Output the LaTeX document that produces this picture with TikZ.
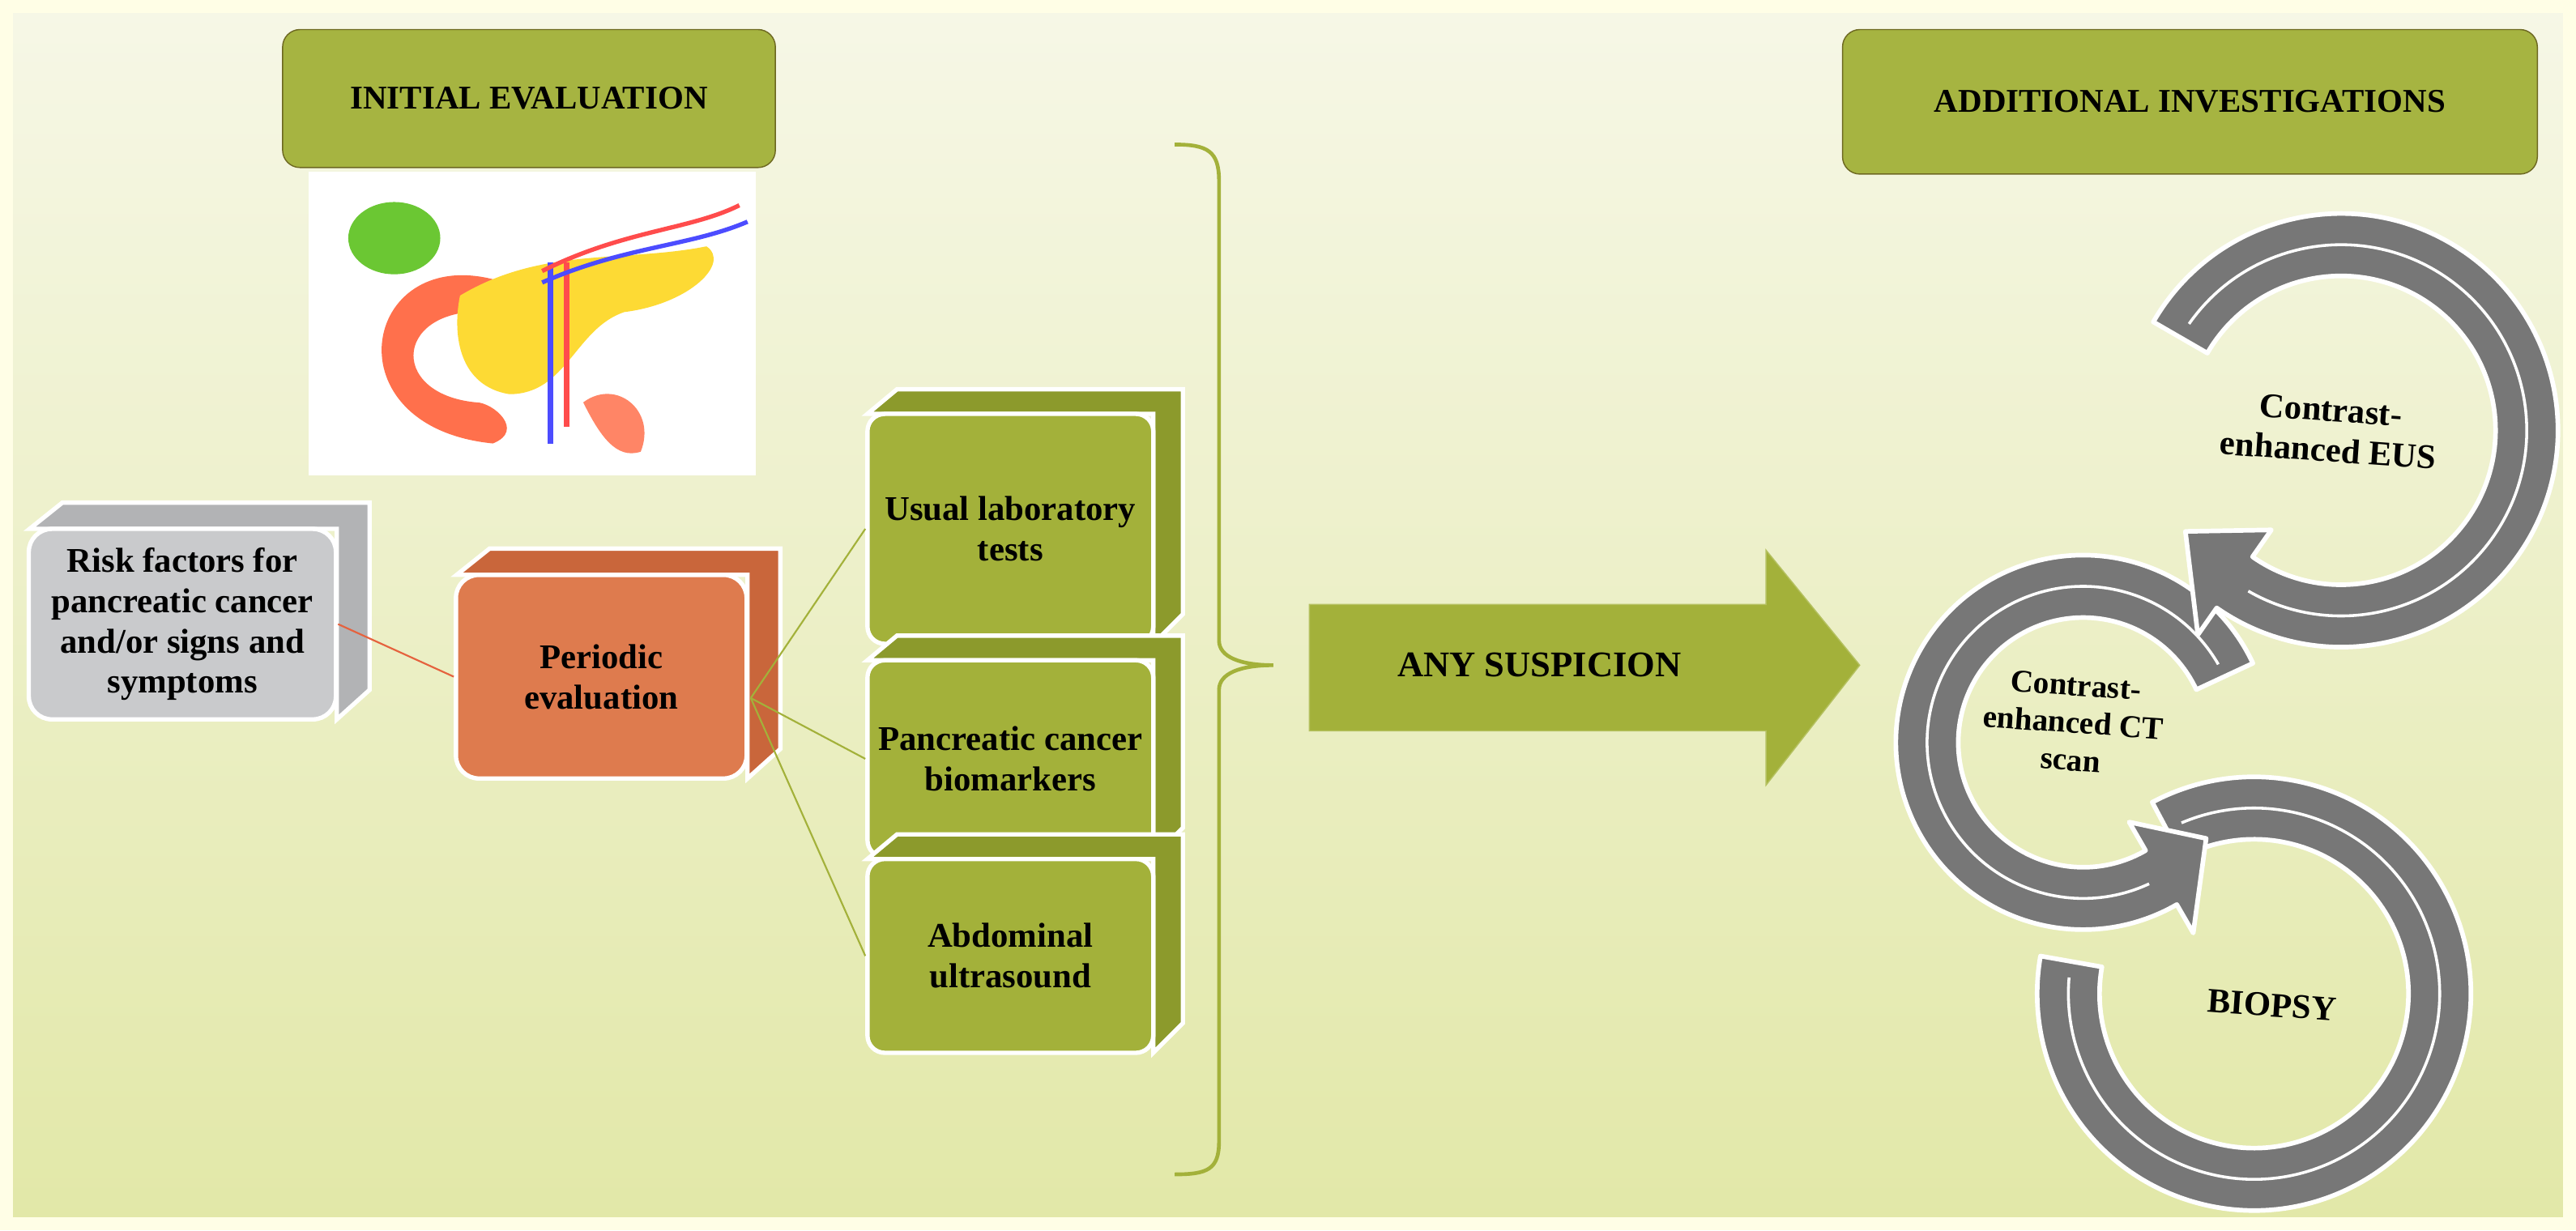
\documentclass[tikz,border=0pt]{standalone}
\usepackage{fontspec}
\setmainfont{Liberation Serif}
\begin{document}
\begin{tikzpicture}[x=0.02cm,y=-0.02cm,
  title/.style={draw=olive!70!black,fill=titleg,rounded corners=6pt,font=\bfseries\fontsize{11.5}{13}\selectfont,align=center},
  txt/.style={font=\bfseries\fontsize{12}{14}\selectfont,align=center},
  ring/.style={fill=ringg,draw=white,line width=1.6pt,line join=round},
  link/.style={line width=0.6pt}]
\definecolor{titleg}{HTML}{A6B441}
\definecolor{boxg}{HTML}{A3B13A}
\definecolor{boxgd}{HTML}{8C9A2C}
\definecolor{orng}{HTML}{DE7B4E}
\definecolor{orngd}{HTML}{C9663B}
\definecolor{grayb}{HTML}{C9CACC}
\definecolor{graybd}{HTML}{B2B3B5}
\definecolor{ringg}{HTML}{777777}
\useasboundingbox (0,0) rectangle (1568,749);
\fill[white!90!yellow] (0,0) rectangle (1568,749);
\shade[top color={rgb,255:red,246;green,247;blue,230}, bottom color={rgb,255:red,226;green,232;blue,168}] (8,8) rectangle (1560,741);
% titles
\node[title,minimum width=6cm,minimum height=1.68cm] (ie) at (322,60) {INITIAL EVALUATION};
\node[title,minimum width=8.46cm,minimum height=1.76cm] (ai) at (1333,62) {ADDITIONAL INVESTIGATIONS};
% pancreas picture
\node[fill=white,minimum width=5.44cm,minimum height=3.7cm,inner sep=0] (pic) at (324,197) {};
\fill[red!60!orange!70!white] (300,170) .. controls (220,150) and (200,260) .. (300,270) .. controls (320,262) and (300,245) .. (290,245) .. controls (235,240) and (240,185) .. (300,190) -- cycle;
\fill[yellow!70!orange!80!white] (280,180) .. controls (330,150) and (380,160) .. (430,150) .. controls (445,160) and (420,185) .. (380,190) .. controls (350,200) and (345,240) .. (310,240) .. controls (280,235) and (275,205) .. (280,180) -- cycle;
\fill[green!45!olive!80!white] (240,145) ellipse (28 and 22);
\draw[blue!70,line width=2pt] (335,160) -- (335,270);
\draw[red!70,line width=2pt] (345,160) -- (345,260);
\draw[red!70,line width=1.5pt] (330,165) .. controls (380,140) and (420,140) .. (450,125);
\draw[blue!70,line width=1.5pt] (330,172) .. controls (380,150) and (420,150) .. (455,135);
\fill[red!60!orange!60!white] (355,245) .. controls (375,230) and (400,250) .. (390,275) .. controls (375,280) and (365,265) .. (355,245) -- cycle;
% gray box
\fill[graybd,draw=white,line width=1.5pt] (18,322) -- (38,306) -- (225,306) -- (225,420) -- (205,438) -- (205,322) -- cycle;
\node[fill=grayb,draw=white,line width=1.5pt,rounded corners=8pt,minimum width=3.74cm,minimum height=2.32cm,inner sep=1pt,txt] (risk) at (111,380) {Risk factors for\\pancreatic cancer\\and/or signs and\\symptoms};
% orange box
\fill[orngd,draw=white,line width=1.5pt] (278,350) -- (298,334) -- (475,334) -- (475,456) -- (455,474) -- (455,350) -- cycle;
\node[fill=orng,draw=white,line width=1.5pt,rounded corners=8pt,minimum width=3.54cm,minimum height=2.48cm,txt] (per) at (366,412) {Periodic\\evaluation};
\draw[link,draw=orng!80!red] (risk.east) -- (per.west);
% green boxes
\foreach \n/\y/\h/\t in {ul/322/140/{Usual laboratory\\tests}, pc/462/120/{Pancreatic cancer\\biomarkers}, ab/582/118/{Abdominal\\ultrasound}}{
  \fill[boxgd,draw=white,line width=1.5pt] (528,\y-\h/2) -- (546,\y-\h/2-15) -- (720,\y-\h/2-15) -- (720,\y+\h/2-18) -- (702,\y+\h/2) -- (702,\y-\h/2) -- cycle;
  \node[fill=boxg,draw=white,line width=1.5pt,rounded corners=6pt,minimum width=3.48cm,minimum height=0.02cm*\h,inner sep=1pt,txt] (\n) at (615,\y) {\t};
}
\coordinate (po) at (457,425);
\draw[link,draw=boxg] (po) -- (ul.west);
\draw[link,draw=boxg] (po) -- (pc.west);
\draw[link,draw=boxg] (po) -- (ab.west);
% brace
\coordinate (bt) at (775,405);
\draw[draw=boxg,line width=1.3pt] (715,88) .. controls (735,88) and (742,92) .. (742,110) -- (742,390) .. controls (742,400) and (755,405) .. (bt) .. controls (755,405) and (742,410) .. (742,420) -- (742,695) .. controls (742,712) and (735,715) .. (715,715);
% big arrow
\draw[fill=boxg,draw=boxg!80!white] (797,368) -- (1075,368) -- (1075,335) -- (1132,405) -- (1075,478) -- (1075,445) -- (797,445) -- cycle;
\node[txt,font=\bfseries\fontsize{12.5}{14}\selectfont] (any) at (937,405) {ANY SUSPICION};
% rings
\begin{scope}[shift={(1372,605)}]
 \draw[ring] (-118:132) arc[start angle=-118,end angle=190,radius=132] -- (190:94) arc[start angle=190,end angle=-118,radius=94] -- cycle;
 \draw[white,line width=1pt] (-113:113) arc[start angle=-113,end angle=185,radius=113];
\end{scope}
\begin{scope}[shift={(1268,452)}]
 \draw[ring] (-25:114) arc[start angle=-25,end angle=-300,radius=114] -- (-300:134) -- (-322:95) -- (-300:56) -- (-300:76) arc[start angle=-300,end angle=-25,radius=76] -- cycle;
 \draw[white,line width=1pt] (-30:95) arc[start angle=-30,end angle=-295,radius=95];
\end{scope}
\begin{scope}[shift={(1425,262)}]
 \draw[ring] (-150:132) arc[start angle=-150,end angle=125,radius=132] -- (125:152) -- (147:113) -- (125:74) -- (125:94) arc[start angle=125,end angle=-150,radius=94] -- cycle;
 \draw[white,line width=1pt] (-145:113) arc[start angle=-145,end angle=120,radius=113];
\end{scope}
\node[txt,rotate=-4] (eus) at (1418,262) {Contrast-\\enhanced EUS};
\node[txt,rotate=-4,align=center,font=\bfseries\fontsize{11}{13}\selectfont] (ct) at (1262,440) {Contrast-\\enhanced CT\\scan};
\node[txt,rotate=-4] (bio) at (1383,612) {BIOPSY};
\end{tikzpicture}
\end{document}
